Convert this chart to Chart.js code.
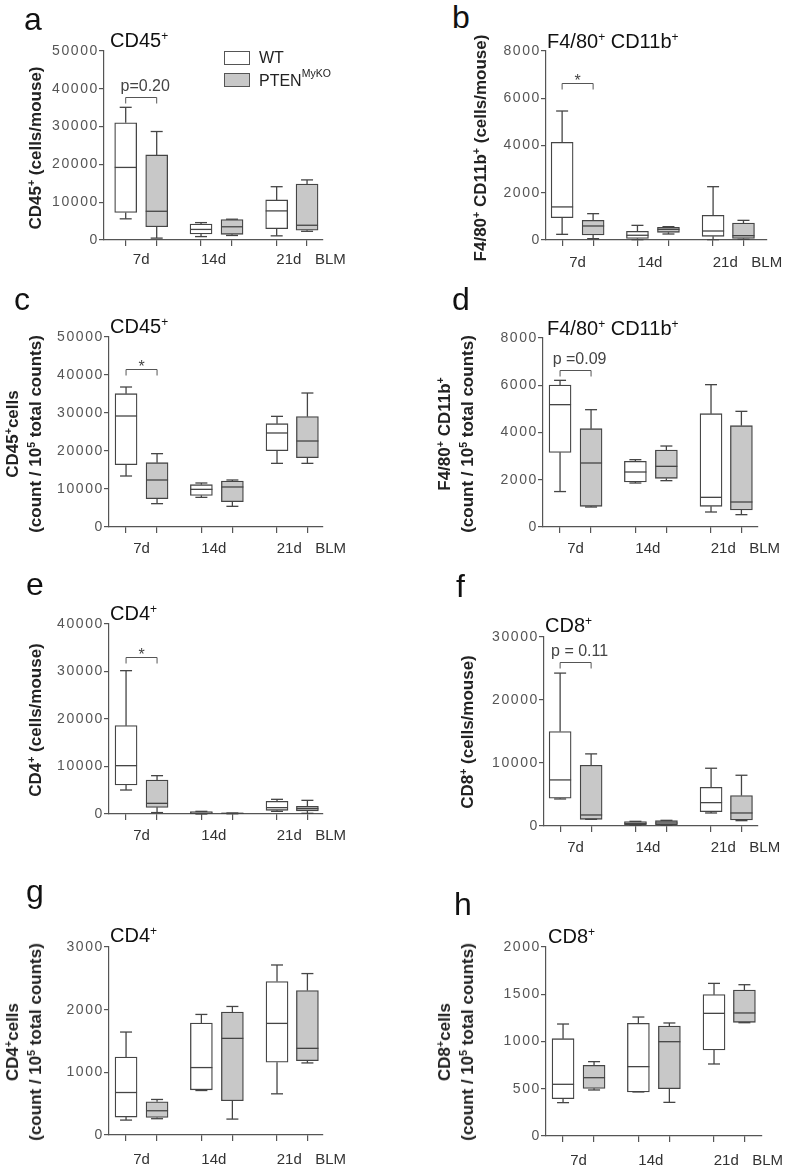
<!DOCTYPE html>
<html>
<head>
<meta charset="utf-8">
<script src="https://cdn.jsdelivr.net/npm/chart.js@4.4.0/dist/chart.umd.min.js"></script>
<style>
  body { margin: 0; background: #fff; width: 787px; height: 1166px; position: relative; overflow: hidden;
         font-family: "Liberation Sans", Arial, sans-serif; color: #111; }
  canvas { position: absolute; }
  sup { line-height: 0; font-size: 0.6em; vertical-align: 0.6em; }
  .ytitle { position: absolute; font-weight: bold; font-size: 17px; line-height: 23px; color: #222;
            text-align: center; white-space: nowrap; transform: translate(-50%, -50%) rotate(-90deg); }
  .ytitle sup { font-size: 0.62em; vertical-align: 0.55em; }
  .legbox { position: absolute; border: 1.2px solid #555; box-sizing: border-box; }
</style>
</head>
<body>
<script>
// groups on the x axis
const groups = ['7d', '14d', '21d'];

// each row: [min, Q1, median, Q3, max] for 7d, 14d, 21d
const a_WT = [[5600, 7300, 19200, 31000, 35100], [900, 1600, 2800, 4200, 4600], [1100, 3000, 7700, 10600, 14100]];
const a_KO = [[500, 3500, 7600, 22500, 28700], [1200, 1500, 3500, 5400, 5500], [2300, 2600, 3900, 14800, 15900]];

const b_WT = [[240, 945, 1400, 4134, 5460], [14, 70, 200, 367, 620], [14, 155, 381, 1044, 2257]];
const b_KO = [[56, 212, 593, 832, 1115], [254, 325, 451, 536, 564], [28, 70, 183, 720, 832]];

const c_WT = [[13420, 16400, 29210, 35090, 36840], [7800, 8330, 9910, 11140, 11580], [16750, 20090, 24740, 27190, 29120]];
const c_KO = [[6140, 7460, 12370, 16930, 19300], [5440, 6670, 10530, 12100, 12370], [16750, 18250, 22630, 29040, 35260]];

const d_WT = [[1500, 3160, 5178, 6010, 6208], [1862, 1905, 2328, 2780, 2850], [635, 875, 1256, 4797, 6025]];
const d_KO = [[846, 875, 2709, 4162, 4966], [1961, 2060, 2568, 3260, 3428], [522, 720, 1058, 4289, 4896]];

const e_WT = [[5050, 6105, 10175, 18600, 30175], [0, 70, 210, 490, 560], [561, 772, 1333, 2667, 3090]];
const e_KO = [[300, 1400, 2245, 7160, 8070], [50, 80, 140, 190, 210], [140, 632, 1123, 1614, 2877]];

const f_WT = [[4290, 4400, 7313, 15000, 24270], [106, 212, 424, 690, 742], [2067, 2279, 3710, 6147, 9168]];
const f_KO = [[1060, 1060, 1750, 9645, 11447], [106, 159, 477, 848, 900], [848, 954, 2067, 4823, 8055]];

const g_WT = [[238, 286, 678, 1245, 1643], [710, 721, 1076, 1786, 1924], [657, 1161, 1781, 2448, 2713]];
const g_KO = [[260, 281, 387, 530, 567], [254, 546, 1542, 1961, 2051], [1150, 1187, 1383, 2305, 2576]];

const h_WT = [[353, 395, 547, 1030, 1185], [466, 466, 734, 1192, 1259], [762, 910, 1298, 1496, 1615]];
const h_KO = [[487, 504, 617, 748, 787], [356, 501, 998, 1164, 1196], [1199, 1203, 1302, 1545, 1601]];

// y tick labels
const ticks50k = [0, 10000, 20000, 30000, 40000, 50000];
const ticks40k = [0, 10000, 20000, 30000, 40000];
const ticks30k = [0, 10000, 20000, 30000];
const ticks8k = [0, 2000, 4000, 6000, 8000];
const ticks3k = [0, 1000, 2000, 3000];
const ticks2k = [0, 500, 1000, 1500, 2000];

// significance brackets (label, level on y axis)
const sigLabels = { a: 'p=0.20', b: '*', c: '*', d: 'p =0.09', e: '*', f: 'p = 0.11' };
const sigLevels = { a: 37900, b: 6645, c: 41500, d: 6660, e: 33100, f: 26100 };

// layout
const WT_POS = [0.7, 3.13, 5.57];
const KO_POS = [1.7, 4.13, 6.55];
const UNIT = 31;
const LINE = '#454545';
const AXIS = '#555';

const panels = [
  { id: 'a', wt: a_WT, ko: a_KO, yt: ticks50k, L: 104, R: 323, T: 51, B: 240, xmin: 0, lab: 24,
    title: 'CD45<sup>+</sup>', tx: 110, tb: 47, letter: 'a', lx: 24, lb: 30,
    ytitle: 'CD45<sup>+</sup> (cells/mouse)', ycx: 35, ycy: 148 },
  { id: 'b', wt: b_WT, ko: b_KO, yt: ticks8k, L: 546, R: 767, T: 51, B: 240, xmin: 0.18, lab: 27,
    title: 'F4/80<sup>+</sup> CD11b<sup>+</sup>', tx: 547, tb: 48, letter: 'b', lx: 452, lb: 28,
    ytitle: 'F4/80<sup>+</sup> CD11b<sup>+</sup> (cells/mouse)', ycx: 480, ycy: 148 },
  { id: 'c', wt: c_WT, ko: c_KO, yt: ticks50k, L: 109, R: 323, T: 337, B: 527, xmin: 0.15, lab: 26,
    title: 'CD45<sup>+</sup>', tx: 110, tb: 333, letter: 'c', lx: 14, lb: 310,
    ytitle: 'CD45<sup>+</sup>cells<br>(count / 10<sup>5</sup> total counts)', ycx: 23.5, ycy: 434 },
  { id: 'd', wt: d_WT, ko: d_KO, yt: ticks8k, L: 543, R: 758, T: 338, B: 527, xmin: 0.15, lab: 26,
    title: 'F4/80<sup>+</sup> CD11b<sup>+</sup>', tx: 547, tb: 335, letter: 'd', lx: 452, lb: 310,
    ytitle: 'F4/80<sup>+</sup> CD11b<sup>+</sup><br>(count / 10<sup>5</sup> total counts)', ycx: 456, ycy: 434 },
  { id: 'e', wt: e_WT, ko: e_KO, yt: ticks40k, L: 109, R: 323, T: 624, B: 814, xmin: 0.15, lab: 26,
    title: 'CD4<sup>+</sup>', tx: 110, tb: 620, letter: 'e', lx: 26, lb: 595,
    ytitle: 'CD4<sup>+</sup> (cells/mouse)', ycx: 35, ycy: 720 },
  { id: 'f', wt: f_WT, ko: f_KO, yt: ticks30k, L: 544, R: 758, T: 637, B: 826, xmin: 0.18, lab: 26,
    title: 'CD8<sup>+</sup>', tx: 545, tb: 632, letter: 'f', lx: 456, lb: 597,
    ytitle: 'CD8<sup>+</sup> (cells/mouse)', ycx: 467, ycy: 732 },
  { id: 'g', wt: g_WT, ko: g_KO, yt: ticks3k, L: 109, R: 323, T: 947, B: 1135, xmin: 0.15, lab: 29,
    title: 'CD4<sup>+</sup>', tx: 110, tb: 942, letter: 'g', lx: 26, lb: 902,
    ytitle: 'CD4<sup>+</sup>cells<br>(count / 10<sup>5</sup> total counts)', ycx: 23.5, ycy: 1042 },
  { id: 'h', wt: h_WT, ko: h_KO, yt: ticks2k, L: 546, R: 762, T: 947, B: 1136, xmin: 0.15, lab: 29,
    title: 'CD8<sup>+</sup>', tx: 548, tb: 943, letter: 'h', lx: 454, lb: 915,
    ytitle: 'CD8<sup>+</sup>cells<br>(count / 10<sup>5</sup> total counts)', ycx: 456, ycy: 1042 }
];

function put(html, x, base, size, css) {
  const d = document.createElement('div');
  d.innerHTML = html;
  d.style.cssText = 'position:absolute;left:' + x + 'px;top:' + (base - 0.8465 * size) + 'px;font-size:' + size +
    'px;line-height:1;white-space:nowrap;' + (css || '');
  document.body.appendChild(d);
  return d;
}

function boxPlugin(p) {
  return {
    id: 'box_' + p.id,
    beforeDraw(chart) { chart.ctx.letterSpacing = '1.6px'; },
    beforeDatasetsDraw(chart) { chart.ctx.letterSpacing = '0px'; },
    afterDatasetsDraw(chart) {
      const ctx = chart.ctx;
      const x = chart.scales.x, y = chart.scales.y;
      const seg = (x1, y1, x2, y2) => { ctx.beginPath(); ctx.moveTo(x1, y1); ctx.lineTo(x2, y2); ctx.stroke(); };
      ctx.save();
      ctx.strokeStyle = LINE;
      ctx.lineWidth = 1.3;
      [[p.wt, WT_POS], [p.ko, KO_POS]].forEach(([rows, pos]) => {
        rows.forEach((r, i) => {
          const cx = x.getPixelForValue(pos[i]);
          const [mn, q1, md, q3, mx] = r.map(v => y.getPixelForValue(v));
          seg(cx, q3, cx, mx); seg(cx - 6, mx, cx + 6, mx);
          seg(cx, q1, cx, mn); seg(cx - 6, mn, cx + 6, mn);
          seg(cx - 11, md, cx + 11, md);
        });
      });

      // significance bracket
      if (sigLabels[p.id]) {
        const x1 = x.getPixelForValue(WT_POS[0]), x2 = x.getPixelForValue(KO_POS[0]);
        const yy = Math.round(y.getPixelForValue(sigLevels[p.id])) + 0.5;
        ctx.lineWidth = 1;
        ctx.strokeStyle = '#555';
        ctx.beginPath();
        ctx.moveTo(x1, yy + 6); ctx.lineTo(x1, yy); ctx.lineTo(x2, yy); ctx.lineTo(x2, yy + 6);
        ctx.stroke();
        const star = sigLabels[p.id] === '*';
        ctx.fillStyle = '#444';
        ctx.textAlign = 'center';
        ctx.textBaseline = 'alphabetic';
        ctx.font = '16px "Liberation Sans", Arial, sans-serif';
        ctx.fillText(sigLabels[p.id], (x1 + x2) / 2 + (star ? 0 : 4), yy + (star ? 2 : -7));
      }

      // group labels under the axis
      ctx.fillStyle = '#333';
      ctx.font = '15px "Liberation Sans", Arial, sans-serif';
      ctx.textAlign = 'center';
      ctx.textBaseline = 'alphabetic';
      const base = y.getPixelForValue(0) + p.lab;
      groups.forEach((g, i) => {
        const cx = x.getPixelForValue((WT_POS[i] + KO_POS[i]) / 2) - (i === 0 ? 0 : 3);
        ctx.fillText(g, cx, base);
      });
      ctx.fillText('BLM', x.getPixelForValue(KO_POS[2] + 0.75), base);
      ctx.restore();
    }
  };
}

panels.forEach(p => {
  const padT = 20, yW = 70, padR = 30, xH = 36;
  const cv = document.createElement('canvas');
  cv.width = yW + (p.R - p.L) + padR;
  cv.height = padT + (p.B - p.T) + xH;
  cv.style.left = (p.L - yW) + 'px';
  cv.style.top = (p.T - padT) + 'px';
  document.body.appendChild(cv);

  new Chart(cv.getContext('2d'), {
    type: 'bar',
    data: {
      datasets: [
        { label: 'WT', data: p.wt.map((r, i) => ({ x: WT_POS[i], y: [r[1], r[3]] })),
          backgroundColor: '#ffffff', borderColor: LINE, borderWidth: 1.3, borderSkipped: false,
          barThickness: 22, maxBarThickness: 22, grouped: false },
        { label: 'PTEN MyKO', data: p.ko.map((r, i) => ({ x: KO_POS[i], y: [r[1], r[3]] })),
          backgroundColor: '#c8c8c8', borderColor: LINE, borderWidth: 1.3, borderSkipped: false,
          barThickness: 22, maxBarThickness: 22, grouped: false }
      ]
    },
    options: {
      responsive: false,
      animation: false,
      layout: { padding: { top: padT, right: padR, left: 0, bottom: 0 } },
      plugins: { legend: { display: false }, tooltip: { enabled: false } },
      scales: {
        x: {
          type: 'linear', offset: false, min: p.xmin, max: p.xmin + (p.R - p.L) / UNIT,
          afterFit: s => { s.height = xH; },
          afterBuildTicks: s => { s.ticks = WT_POS.concat(KO_POS).map(v => ({ value: v })); },
          ticks: { display: false },
          grid: { offset: false, drawOnChartArea: false, drawTicks: true, tickLength: 6, color: AXIS, lineWidth: 1.2 },
          border: { display: true, color: AXIS, width: 1.2 }
        },
        y: {
          min: 0, max: p.yt[p.yt.length - 1],
          afterFit: s => { s.width = yW; },
          afterBuildTicks: s => { s.ticks = p.yt.map(v => ({ value: v })); },
          ticks: { color: '#555', padding: 0, font: { family: '"Liberation Sans", Arial, sans-serif', size: 14 },
                   callback: v => String(v) },
          grid: { drawOnChartArea: false, drawTicks: true, tickLength: 5, color: AXIS, lineWidth: 1.2 },
          border: { display: true, color: AXIS, width: 1.2 }
        }
      }
    },
    plugins: [boxPlugin(p)]
  });

  put(p.letter, p.lx, p.lb, 32);
  put(p.title, p.tx, p.tb, 20);
  const yt = document.createElement('div');
  yt.className = 'ytitle';
  yt.innerHTML = p.ytitle;
  yt.style.left = p.ycx + 'px';
  yt.style.top = p.ycy + 'px';
  document.body.appendChild(yt);
});

// legend (panel a)
const lb1 = document.createElement('div');
lb1.className = 'legbox';
lb1.style.cssText += 'left:224px;top:51px;width:26px;height:14px;background:#fff;';
document.body.appendChild(lb1);
const lb2 = document.createElement('div');
lb2.className = 'legbox';
lb2.style.cssText += 'left:224px;top:73px;width:26px;height:14px;background:#c8c8c8;';
document.body.appendChild(lb2);
put('WT', 259, 64, 16, 'color:#222;');
put('PTEN<span style="font-size:10.5px;vertical-align:9px;line-height:0">MyKO</span>', 259, 87, 16, 'color:#222;');
</script>
</body>
</html>
